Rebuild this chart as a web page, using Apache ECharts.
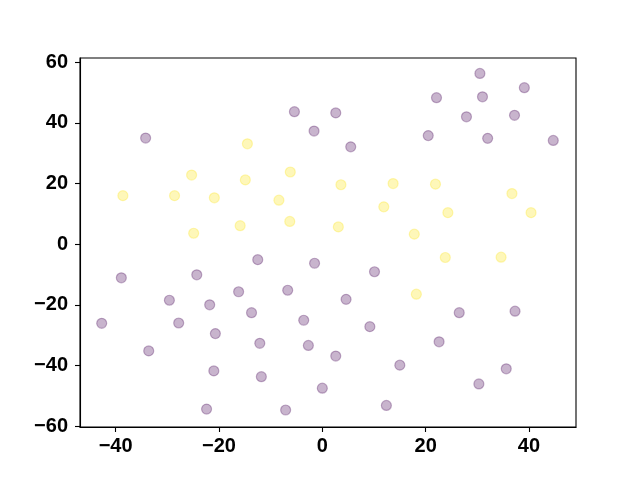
<!DOCTYPE html>
<html>
<head>
<meta charset="utf-8">
<script src="https://cdn.jsdelivr.net/npm/echarts@6/dist/echarts.min.js"></script>
<style>html,body{margin:0;padding:0;background:#fff}#c{width:640px;height:480px}</style>
</head>
<body>
<div id="c"></div>
<script>
// Class 0 (purple) points [x, y]
var class0 = [
  [-34.2, 35.0], [-5.4, 43.7], [-1.6, 37.3],
  [30.5, 56.3], [39.1, 51.6], [22.1, 48.3], [31.0, 48.6], [2.6, 43.3],
  [27.9, 42.0], [37.2, 42.5], [20.5, 35.8], [32.0, 34.9], [44.7, 34.2], [5.5, 32.1],
  [-38.9, -11.1], [-24.3, -10.1], [-12.5, -5.1], [-1.5, -6.3], [-29.6, -18.5],
  [-16.2, -15.7], [-6.7, -15.2], [-21.8, -20.0], [-13.7, -22.6], [-42.7, -26.1],
  [-27.8, -26.0], [-3.6, -25.1], [-20.7, -29.5], [-12.1, -32.7], [-2.7, -33.4],
  [-33.6, -35.2], [-21.0, -41.8], [-11.8, -43.7], [0.0, -47.5], [-22.4, -54.4],
  [-7.1, -54.7],
  [10.1, -9.1], [4.6, -18.2], [26.5, -22.6], [37.3, -22.1], [9.2, -27.2],
  [22.6, -32.2], [2.6, -36.9], [15.0, -39.9], [35.6, -41.1], [30.3, -46.1],
  [12.4, -53.2]
];
// Class 1 (yellow) points [x, y]
var class1 = [
  [-14.5, 33.1], [-25.3, 22.8], [-14.9, 21.2], [-6.2, 23.8], [-38.6, 16.0],
  [-28.6, 16.0], [-20.9, 15.3], [-8.4, 14.5], [-6.3, 7.5], [-15.9, 6.1], [-24.9, 3.6],
  [3.6, 19.6], [13.7, 20.0], [21.9, 19.8], [36.7, 16.7], [11.9, 12.3], [24.3, 10.4],
  [40.4, 10.4], [3.1, 5.7], [17.8, 3.3],
  [23.8, -4.4], [34.6, -4.3], [18.2, -16.5]
];
var xTicks = [-40, -20, 0, 20, 40];
var yTicks = [-60, -40, -20, 0, 20, 40, 60];
var xRange = [-46.9, 49.1];
var yRange = [-60.3, 61.4];

function fmt(v) { return String(v).replace('-', '\u2212'); }

var labelStyle = {
  color: '#000', fontSize: 20, fontWeight: 'bold',
  fontFamily: '"Liberation Sans", Arial, sans-serif', formatter: fmt
};

var chart = echarts.init(document.getElementById('c'), null, {renderer: 'canvas'});
chart.setOption({
  animation: false,
  backgroundColor: '#fff',
  grid: {left: 80, right: 64, top: 58, bottom: 53, show: true,
         borderColor: '#000', borderWidth: 1.1, backgroundColor: 'transparent'},
  xAxis: {
    type: 'value', min: xRange[0], max: xRange[1],
    axisLine: {show: true, onZero: false, lineStyle: {color: '#000', width: 1.1}},
    axisTick: {show: true, length: 5, inside: false, customValues: xTicks,
               lineStyle: {color: '#000', width: 1.1}},
    axisLabel: Object.assign({margin: 9, customValues: xTicks}, labelStyle),
    splitLine: {show: false}
  },
  yAxis: {
    type: 'value', min: yRange[0], max: yRange[1],
    axisLine: {show: true, onZero: false, lineStyle: {color: '#000', width: 1.1}},
    axisTick: {show: true, length: 5, inside: false, customValues: yTicks,
               lineStyle: {color: '#000', width: 1.1}},
    axisLabel: Object.assign({margin: 12, customValues: yTicks}, labelStyle),
    splitLine: {show: false}
  },
  series: [
    {
      type: 'scatter', data: class0, symbolSize: 10,
      itemStyle: {color: 'rgba(68,1,84,0.37)', borderColor: 'rgba(68,1,84,0.37)', borderWidth: 1.2}
    },
    {
      type: 'scatter', data: class1, symbolSize: 10,
      itemStyle: {color: 'rgba(253,231,37,0.4)', borderColor: 'rgba(253,231,37,0.4)', borderWidth: 1.2}
    }
  ]
});
</script>
</body>
</html>
